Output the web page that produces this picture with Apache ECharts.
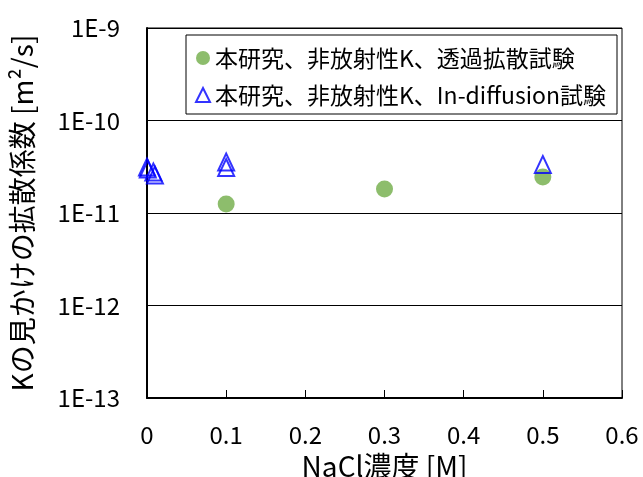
<!DOCTYPE html>
<html><head><meta charset="utf-8">
<script src="https://cdn.jsdelivr.net/npm/echarts@6/dist/echarts.min.js"></script>
<style>html,body{margin:0;padding:0;background:#fff}#c{width:643px;height:477px}</style>
</head><body><div id="c"></div>
<script>
var seriesNames = ['本研究、非放射性K、透過拡散試験', '本研究、非放射性K、In-diffusion試験'];
var throughX = [0.1, 0.3, 0.5];
var throughY = [1.25e-11, 1.82e-11, 2.45e-11];
var inDiffX = [0, 0.001, 0.008, 0.01, 0.1, 0.1, 0.5];
var inDiffY = [3.14e-11, 2.99e-11, 2.77e-11, 2.57e-11, 3.56e-11, 3.10e-11, 3.34e-11];
var xTicks = [0, 0.1, 0.2, 0.3, 0.4, 0.5, 0.6];
var yTickLabels = ['1E-13', '1E-12', '1E-11', '1E-10', '1E-9'];

function pairs(xs, ys){ return xs.map(function(x,i){return [x, ys[i]];}); }
var font = '"Noto Sans CJK JP", "Noto Sans", sans-serif';
var chart = echarts.init(document.getElementById('c'));
chart.setOption({
  animation: false,
  backgroundColor: '#fff',
  textStyle: {fontFamily: font},
  grid: {left: 147, right: 21, top: 28, bottom: 79, show: true, borderColor: '#000', borderWidth: 1,
         containLabel: false, outerBoundsMode: 'none'},
  legend: {
    orient: 'vertical', left: 186, top: 35,
    padding: [10, 11, 6, 9],
    borderColor: '#000', borderWidth: 1,
    itemWidth: 14, itemHeight: 14, itemGap: 11,
    textStyle: {fontSize: 23, color: '#000', lineHeight: 26, fontFamily: font},
    data: seriesNames
  },
  xAxis: {
    type: 'value', min: 0, max: 0.6, interval: 0.1,
    name: 'NaCl濃度 [M]', nameLocation: 'middle', nameGap: 54,
    nameTextStyle: {fontSize: 28, color: '#000', fontFamily: font},
    axisLine: {lineStyle: {color: '#000', width: 2}},
    axisTick: {inside: true, length: 8, lineStyle: {color: '#000', width: 1}},
    axisLabel: {fontSize: 24, color: '#000', margin: 25, fontFamily: font,
      formatter: function(v){ var i = xTicks.indexOf(Math.round(v*10)/10); return i >= 0 ? String(xTicks[i]) : ''; }},
    splitLine: {show: false}
  },
  yAxis: {
    type: 'log', logBase: 10, min: 1e-13, max: 1e-9,
    name: 'Kの見かけの拡散係数 [m²/s]', nameLocation: 'middle', nameGap: 111, nameRotate: 90,
    nameTextStyle: {fontSize: 28, color: '#000', fontFamily: font},
    axisLine: {show: true, lineStyle: {color: '#000', width: 2}},
    axisTick: {show: true, inside: true, length: 4, lineStyle: {color: '#000'}},
    axisLabel: {fontSize: 24, color: '#000', margin: 27, fontFamily: font,
      formatter: function(v){ var e = Math.round(Math.log10(v)); var i = e + 13; return yTickLabels[i] || ''; }},
    splitLine: {show: true, lineStyle: {color: '#000', width: 1}}
  },
  series: [
    {name: seriesNames[0], type: 'scatter', symbol: 'circle', symbolSize: 17,
     itemStyle: {color: '#70AD47'}, data: pairs(throughX, throughY), z: 2},
    {name: seriesNames[1], type: 'scatter', symbol: 'triangle', symbolSize: [16, 17],
     itemStyle: {color: 'rgba(0,0,0,0)', borderColor: '#0000FF', borderWidth: 2},
     data: pairs(inDiffX, inDiffY), z: 3}
  ]
});
</script></body></html>
